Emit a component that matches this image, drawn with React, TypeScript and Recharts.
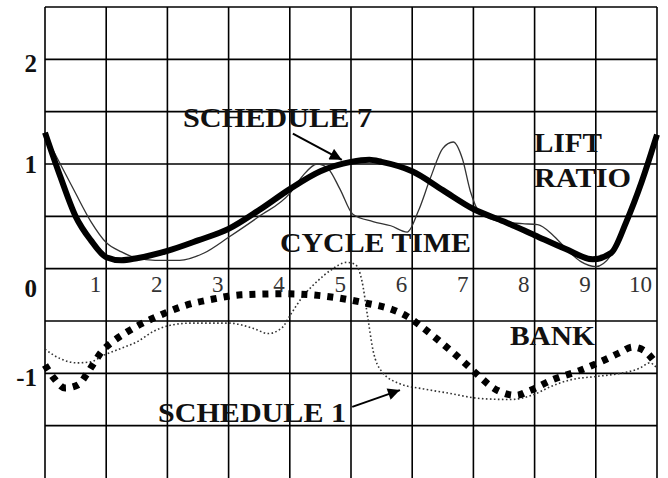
import React from 'react';
import {
  LineChart,
  Line,
  XAxis,
  YAxis,
  CartesianGrid,
  ReferenceLine,
  ReferenceDot
} from 'recharts';

// tick labels and grid values
const xTicks = [1, 2, 3, 4, 5, 6, 7, 8, 9, 10];
const yTicks = [-1, 0, 1, 2];
const gridX = [0, 1, 2, 3, 4, 5, 6, 7, 8, 9, 10];
const gridY = [-2, -1.5, -1, -0.5, 0, 0.5, 1, 1.5, 2, 2.5];

// LIFT RATIO, schedule 7 (thick solid)
const liftSchedule7 = [
  { x: 0, y: 1.3 }, { x: 0.25, y: 0.88 }, { x: 0.5, y: 0.5 }, { x: 0.75, y: 0.27 },
  { x: 1, y: 0.11 }, { x: 1.25, y: 0.08 }, { x: 1.5, y: 0.1 }, { x: 2, y: 0.17 },
  { x: 2.5, y: 0.27 }, { x: 3, y: 0.38 }, { x: 3.5, y: 0.56 }, { x: 4, y: 0.76 },
  { x: 4.5, y: 0.93 }, { x: 5, y: 1.02 }, { x: 5.3, y: 1.04 }, { x: 5.5, y: 1.02 },
  { x: 6, y: 0.93 }, { x: 6.5, y: 0.75 }, { x: 7, y: 0.57 }, { x: 7.5, y: 0.45 },
  { x: 8, y: 0.32 }, { x: 8.5, y: 0.19 }, { x: 8.95, y: 0.09 }, { x: 9.25, y: 0.15 },
  { x: 9.5, y: 0.45 }, { x: 9.75, y: 0.83 }, { x: 10, y: 1.28 }
];

// LIFT RATIO, schedule 1 (thin solid)
const liftSchedule1 = [
  { x: 0, y: 1.28 }, { x: 0.25, y: 1.0 }, { x: 0.5, y: 0.72 }, { x: 0.75, y: 0.45 },
  { x: 1, y: 0.25 }, { x: 1.25, y: 0.16 }, { x: 1.5, y: 0.1 }, { x: 1.8, y: 0.08 },
  { x: 2.2, y: 0.08 }, { x: 2.6, y: 0.15 }, { x: 3, y: 0.3 }, { x: 3.5, y: 0.5 },
  { x: 4, y: 0.72 }, { x: 4.2, y: 0.88 }, { x: 4.45, y: 1.0 }, { x: 4.62, y: 0.96 },
  { x: 4.82, y: 0.76 }, { x: 5.03, y: 0.52 }, { x: 5.36, y: 0.45 }, { x: 5.65, y: 0.41 },
  { x: 5.92, y: 0.35 }, { x: 6.1, y: 0.55 }, { x: 6.3, y: 0.87 }, { x: 6.5, y: 1.15 },
  { x: 6.67, y: 1.21 }, { x: 6.82, y: 1.05 }, { x: 6.95, y: 0.74 }, { x: 7.1, y: 0.54 },
  { x: 7.43, y: 0.45 }, { x: 7.8, y: 0.43 }, { x: 8.05, y: 0.42 }, { x: 8.3, y: 0.32 },
  { x: 8.5, y: 0.2 }, { x: 8.75, y: 0.07 }, { x: 9, y: 0.02 }, { x: 9.25, y: 0.13 },
  { x: 9.5, y: 0.43 }, { x: 9.75, y: 0.81 }, { x: 10, y: 1.28 }
];

// BANK, schedule 7 (thick dotted)
const bankSchedule7 = [
  { x: 0, y: -0.92 }, { x: 0.15, y: -1.05 }, { x: 0.33, y: -1.14 }, { x: 0.54, y: -1.11 },
  { x: 0.68, y: -1.01 }, { x: 0.8, y: -0.9 }, { x: 0.93, y: -0.79 }, { x: 1.1, y: -0.7 },
  { x: 1.3, y: -0.62 }, { x: 1.5, y: -0.55 }, { x: 1.9, y: -0.44 }, { x: 2.3, y: -0.35 },
  { x: 2.75, y: -0.29 }, { x: 3.2, y: -0.25 }, { x: 3.9, y: -0.24 }, { x: 4.35, y: -0.25 },
  { x: 4.8, y: -0.28 }, { x: 5.25, y: -0.33 }, { x: 5.67, y: -0.39 }, { x: 5.9, y: -0.45 },
  { x: 6.1, y: -0.53 }, { x: 6.4, y: -0.67 }, { x: 6.8, y: -0.87 }, { x: 7.1, y: -1.03 },
  { x: 7.3, y: -1.13 }, { x: 7.5, y: -1.19 }, { x: 7.7, y: -1.21 }, { x: 7.9, y: -1.17 },
  { x: 8.3, y: -1.06 }, { x: 8.75, y: -0.97 }, { x: 9.15, y: -0.87 }, { x: 9.4, y: -0.8 },
  { x: 9.6, y: -0.75 }, { x: 9.78, y: -0.78 }, { x: 10, y: -0.92 }
];

// BANK, schedule 1 (thin dotted)
const bankSchedule1 = [
  { x: 0, y: -0.77 }, { x: 0.25, y: -0.86 }, { x: 0.52, y: -0.9 }, { x: 0.75, y: -0.89 },
  { x: 0.95, y: -0.83 }, { x: 1.25, y: -0.76 }, { x: 1.5, y: -0.7 }, { x: 1.77, y: -0.6 },
  { x: 2.05, y: -0.54 }, { x: 2.4, y: -0.52 }, { x: 3, y: -0.52 }, { x: 3.4, y: -0.57 },
  { x: 3.65, y: -0.62 }, { x: 3.88, y: -0.56 }, { x: 4, y: -0.45 }, { x: 4.22, y: -0.26 },
  { x: 4.45, y: -0.12 }, { x: 4.68, y: -0.01 }, { x: 4.93, y: 0.06 }, { x: 5.07, y: 0.04 },
  { x: 5.18, y: -0.12 }, { x: 5.27, y: -0.45 }, { x: 5.36, y: -0.78 }, { x: 5.5, y: -0.98 },
  { x: 5.8, y: -1.1 }, { x: 6.2, y: -1.15 }, { x: 6.6, y: -1.19 }, { x: 7.1, y: -1.24 },
  { x: 7.6, y: -1.25 }, { x: 8, y: -1.2 }, { x: 8.25, y: -1.13 }, { x: 8.6, y: -1.06 },
  { x: 9, y: -1.03 }, { x: 9.4, y: -1.0 }, { x: 9.72, y: -0.95 }, { x: 9.88, y: -0.9 },
  { x: 10, y: -0.95 }
];

const serif = '"Liberation Serif", "Times New Roman", serif';

const YTick = (props: any) => {
  const { x, y, payload } = props;
  const dy = payload.value === 0 ? 28 : payload.value === 1 ? 9 : 13;
  return (
    <text x={x} y={y} dy={dy} textAnchor="end" fontFamily={serif} fontWeight="bold" fontSize={25} fill="#111">
      {payload.value}
    </text>
  );
};

const XTickLabel = (props: any) => {
  const { viewBox, text } = props;
  if (!viewBox) return null;
  const cx = viewBox.x + viewBox.width / 2;
  const cy = viewBox.y + viewBox.height / 2;
  return (
    <text x={cx - 5} y={cy + 23} textAnchor="end" fontFamily={serif} fontSize={23} fill="#333">
      {text}
    </text>
  );
};

const noteStyle = {
  fontFamily: serif,
  fontWeight: 'bold' as const,
  fontSize: 27,
  fill: '#111'
};

export default function App() {
  return (
    <div style={{ position: 'absolute', left: 0, top: 0, width: 668, height: 478, background: '#fff' }}>
      <LineChart width={668} height={478} margin={{ top: 7, right: 11, bottom: 0, left: 0 }}>
        <defs>
          <marker
            id="arrowHead"
            viewBox="0 0 10 10"
            refX="10"
            refY="5"
            markerWidth="15"
            markerHeight="12"
            markerUnits="userSpaceOnUse"
            orient="auto"
          >
            <path d="M0,0 L10,5 L0,10 z" fill="#000" />
          </marker>
        </defs>
        <CartesianGrid
          stroke="#000"
          strokeWidth={1.6}
          verticalValues={gridX}
          horizontalValues={gridY}
        />
        <XAxis dataKey="x" type="number" domain={[0, 10]} ticks={xTicks} hide />
        <YAxis
          type="number"
          domain={[-2, 2.5]}
          ticks={yTicks}
          width={45}
          axisLine={false}
          tickLine={false}
          tick={<YTick />}
          allowDataOverflow
        />
        {xTicks.map(k => (
          <ReferenceDot
            key={k}
            x={k}
            y={0}
            r={1}
            fill="none"
            stroke="none"
            label={<XTickLabel text={String(k)} />}
          />
        ))}
        <Line
          data={bankSchedule1}
          dataKey="y"
          type="monotone"
          stroke="#333"
          strokeWidth={1.6}
          strokeDasharray="1.6 2.4"
          dot={false}
          isAnimationActive={false}
        />
        <Line
          data={bankSchedule7}
          dataKey="y"
          type="monotone"
          stroke="#000"
          strokeWidth={7}
          strokeDasharray="6 7"
          dot={false}
          isAnimationActive={false}
        />
        <Line
          data={liftSchedule1}
          dataKey="y"
          type="monotone"
          stroke="#333"
          strokeWidth={1.3}
          dot={false}
          isAnimationActive={false}
        />
        <Line
          data={liftSchedule7}
          dataKey="y"
          type="monotone"
          stroke="#000"
          strokeWidth={6}
          dot={false}
          isAnimationActive={false}
        />
        <ReferenceLine
          segment={[{ x: 4.05, y: 1.29 }, { x: 4.85, y: 1.04 }]}
          stroke="#000"
          strokeWidth={2}
          markerEnd="url(#arrowHead)"
          ifOverflow="visible"
        />
        <ReferenceLine
          segment={[{ x: 5.02, y: -1.32 }, { x: 5.8, y: -1.16 }]}
          stroke="#000"
          strokeWidth={2}
          markerEnd="url(#arrowHead)"
          ifOverflow="visible"
        />
        <text x={183} y={127} textLength={189} lengthAdjust="spacingAndGlyphs" {...noteStyle}>SCHEDULE 7</text>
        <text x={534} y={152} textLength={68} lengthAdjust="spacingAndGlyphs" {...noteStyle}>LIFT</text>
        <text x={534} y={187} textLength={97} lengthAdjust="spacingAndGlyphs" {...noteStyle}>RATIO</text>
        <text x={280} y={252} textLength={191} lengthAdjust="spacingAndGlyphs" {...noteStyle}>CYCLE TIME</text>
        <text x={510} y={345} textLength={85} lengthAdjust="spacingAndGlyphs" {...noteStyle}>BANK</text>
        <text x={158} y={422} textLength={188} lengthAdjust="spacingAndGlyphs" {...noteStyle}>SCHEDULE 1</text>
      </LineChart>
    </div>
  );
}
